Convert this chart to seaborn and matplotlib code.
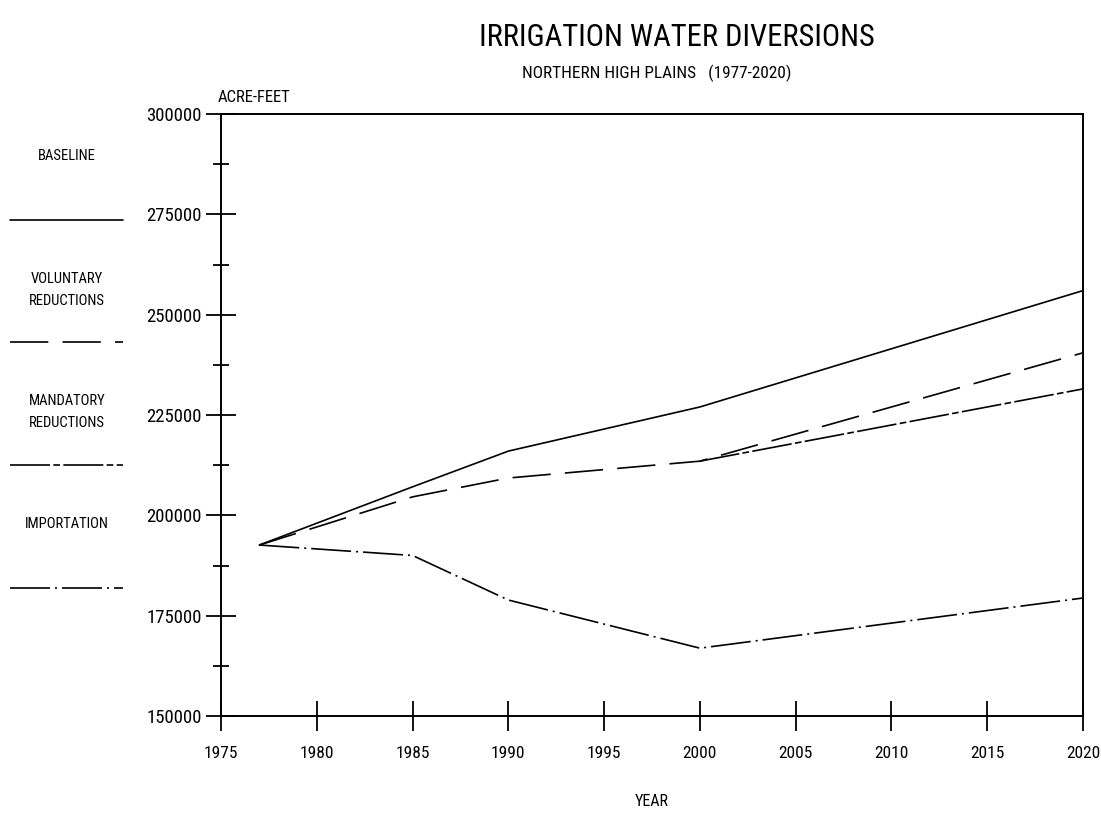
import numpy as np
import pandas as pd
import matplotlib
matplotlib.use("Agg")
import matplotlib.pyplot as plt
from matplotlib.lines import Line2D
from matplotlib.ticker import MultipleLocator, FixedLocator
from matplotlib import font_manager
import seaborn as sns

# ---------------- data ----------------
years = [1977, 1985, 1990, 2000, 2020]
baseline = [192600, 207100, 216000, 227000, 256000]
voluntary = [192600, 204600, 209300, 213500, 240500]
mandatory = [np.nan, np.nan, np.nan, 213500, 231500]   # coincides with voluntary before 2000
importation = [192600, 190000, 178900, 166900, 179400]

series_names = ["BASELINE", "VOLUNTARY\nREDUCTIONS", "MANDATORY\nREDUCTIONS", "IMPORTATION"]
series_values = [baseline, voluntary, mandatory, importation]

x_ticks = list(range(1975, 2021, 5))
y_ticks = list(range(150000, 300001, 25000))

title = "IRRIGATION WATER DIVERSIONS"
subtitle = "NORTHERN HIGH PLAINS   (1977-2020)"
y_unit = "ACRE-FEET"
x_label = "YEAR"

# ---------------- style ----------------
sns.set_style("white")
avail = {f.name for f in font_manager.fontManager.ttflist}
font = "DejaVu Sans"
for cand in ["Liberation Sans Narrow", "DejaVu Sans Condensed", "Roboto Condensed"]:
    if cand in avail:
        font = cand
        break
plt.rcParams["font.family"] = [font, "DejaVu Sans"]

LW = 1.2
dash_styles = {
    series_names[0]: "",
    series_names[1]: (23, 8.5),
    series_names[2]: (24, 2, 4, 2),
    series_names[3]: (24, 3, 1.2, 3),
}

df = pd.concat(
    [pd.DataFrame({"year": years, "value": v, "series": n}) for n, v in zip(series_names, series_values)],
    ignore_index=True,
).dropna()

W, H = 1101, 814
fig = plt.figure(figsize=(W / 100, H / 100), dpi=100)
ax = fig.add_axes([221 / W, (H - 716) / H, (1083 - 221) / W, (716 - 114) / H])

sns.lineplot(
    data=df, x="year", y="value", style="series", style_order=series_names,
    dashes=dash_styles, color="black", linewidth=LW, legend=False,
    estimator=None, sort=False, ax=ax,
)

ax.set_xlim(1975, 2020)
ax.set_ylim(150000, 300000)
ax.xaxis.set_major_locator(FixedLocator(x_ticks))
ax.yaxis.set_major_locator(FixedLocator(y_ticks))
ax.yaxis.set_minor_locator(MultipleLocator(12500))
ax.set_xticklabels([str(t) for t in x_ticks])
ax.set_yticklabels([str(t) for t in y_ticks])
ax.set_xlabel("")
ax.set_ylabel("")
for s in ax.spines.values():
    s.set_visible(True)
    s.set_color("black")
    s.set_linewidth(1.4)

ax.tick_params(axis="both", which="major", direction="inout", length=21.6, width=1.3,
               color="black", labelcolor="black", bottom=True, left=True,
               top=False, right=False)
ax.tick_params(axis="y", which="major", pad=3, labelsize=13.5)
ax.tick_params(axis="x", which="major", pad=11, labelsize=12.5)
ax.tick_params(axis="y", which="minor", direction="inout", length=11.5, width=1.3,
               color="black", left=True, right=False)
ax.tick_params(axis="x", which="minor", bottom=False, top=False)

# ---------------- texts ----------------
def fig_text(x_px, y_px, s, size, **kw):
    return fig.text(x_px / W, 1 - y_px / H, s, fontsize=size, color="black", **kw)

fig_text(677, 38, title, 22, ha="center", va="center")
fig_text(657, 73, subtitle, 12.4, ha="center", va="center")
fig_text(218, 97, y_unit, 12, ha="left", va="center")
fig_text(652, 801, x_label, 11.5, ha="center", va="center")

# ---------------- side legend ----------------
label_y = [156, 290, 412, 524]
line_y = [220, 342, 465, 588]
for name, ly, sy in zip(series_names, label_y, line_y):
    fig_text(67, ly, name, 10.5, ha="center", va="center", linespacing=1.7)
    d = dash_styles[name]
    ln = Line2D([10 / W, 123 / W], [1 - sy / H, 1 - sy / H], transform=fig.transFigure,
                color="black", linewidth=LW)
    if d:
        ln.set_dashes(d)
    fig.add_artist(ln)

fig.savefig("out.png", dpi=100, facecolor="white")
